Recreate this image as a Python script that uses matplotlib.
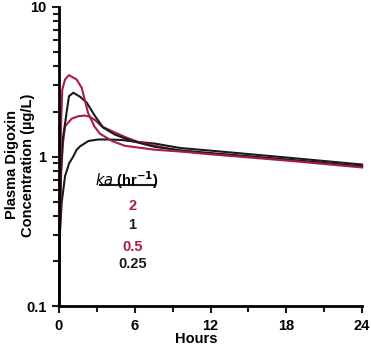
import numpy as np
import matplotlib
matplotlib.use('Agg')
import matplotlib.pyplot as plt
from matplotlib.ticker import FixedLocator, FixedFormatter, LogLocator, NullFormatter

plt.rcParams['font.family'] = ['Liberation Sans', 'DejaVu Sans']

RED = '#a81c4c'
BLK = '#1a1a1a'

# hours, concentration (ug/L)
t_ka2 = [0, 0.04, 0.1, 0.18, 0.26, 0.48, 0.79, 1.4, 1.8, 2.3, 2.8, 3.25, 4.2, 5.2, 7.6, 9.6, 12, 18, 24]
c_ka2 = [0.1, 0.3, 0.9, 1.8, 2.8, 3.27, 3.5, 3.27, 2.88, 1.96, 1.59, 1.42, 1.27, 1.18, 1.11, 1.08, 1.035, 0.94, 0.845]

t_ka1 = [0, 0.05, 0.15, 0.3, 0.6, 0.79, 1.13, 1.67, 2.2, 2.86, 3.5, 4.44, 5.77, 7.6, 9.6, 12, 18, 24]
c_ka1 = [0.1, 0.3, 0.8, 1.3, 1.96, 2.53, 2.67, 2.51, 2.29, 1.86, 1.56, 1.40, 1.27, 1.16, 1.10, 1.055, 0.955, 0.86]

t_ka05 = [0, 0.05, 0.15, 0.3, 0.48, 1.0, 1.53, 2.06, 2.46, 2.86, 3.39, 4.18, 5.24, 6.3, 7.6, 9.6, 12, 18, 24]
c_ka05 = [0.1, 0.25, 0.7, 1.2, 1.59, 1.79, 1.86, 1.88, 1.84, 1.75, 1.59, 1.48, 1.35, 1.25, 1.18, 1.09, 1.045, 0.95, 0.855]

t_ka025 = [0, 0.03, 0.08, 0.21, 0.48, 0.8, 1.13, 1.4, 1.67, 2.33, 3.1, 3.9, 4.95, 6.3, 7.6, 9.6, 12, 18, 24]
c_ka025 = [0.1, 0.18, 0.31, 0.49, 0.74, 0.9, 1.0, 1.11, 1.17, 1.27, 1.30, 1.30, 1.29, 1.25, 1.22, 1.14, 1.095, 0.985, 0.884]

legend_labels = ['2', '1', '0.5', '0.25']
legend_colors = [RED, BLK, RED, BLK]

fig = plt.figure(figsize=(3.71, 3.49), dpi=100)
ax = fig.add_axes([0.159, 0.123, 0.817, 0.857])

lw = 1.5
ax.plot(t_ka025, c_ka025, color=BLK, lw=lw, clip_on=False)
ax.plot(t_ka05, c_ka05, color=RED, lw=lw, clip_on=False)
ax.plot(t_ka1, c_ka1, color=BLK, lw=lw, clip_on=False)
ax.plot(t_ka2, c_ka2, color=RED, lw=lw, clip_on=False)

ax.set_yscale('log')
ax.set_ylim(0.1, 10)
ax.set_xlim(0, 24)

ax.yaxis.set_major_locator(FixedLocator([0.1, 1, 10]))
ax.yaxis.set_major_formatter(FixedFormatter(['0.1', '1', '10']))
ax.yaxis.set_minor_locator(LogLocator(base=10, subs=np.arange(2, 10)))
ax.yaxis.set_minor_formatter(NullFormatter())
ax.set_xticks([0, 6, 12, 18, 24])
ax.set_xticks([3, 9, 15, 21], minor=True)

for s in ['top', 'right']:
    ax.spines[s].set_visible(False)
for s in ['left', 'bottom']:
    ax.spines[s].set_linewidth(2)
ax.tick_params(which='both', direction='out', width=1.5, color=BLK)
ax.tick_params(which='major', length=5, labelsize=10.5, pad=4)
ax.tick_params(which='minor', length=4)
for lab in ax.get_xticklabels() + ax.get_yticklabels():
    lab.set_fontweight('bold')

fig.text(196 / 371, 1 - 339 / 349, 'Hours', fontsize=10.5, fontweight='bold',
         ha='center', va='center')
fig.text(20 / 371, 1 - 165 / 349, 'Plasma Digoxin\nConcentration (µg/L)',
         fontsize=10.5, fontweight='bold', rotation=90, ha='center',
         va='center', linespacing=1.1, multialignment='center')

# legend as text block
ax.text(5.4, 0.70, r'$\mathbf{\mathit{ka}}$ (hr$^{\mathbf{-1}}$)', fontsize=10.5,
        fontweight='bold', ha='center', va='center')
ax.plot([3.25, 7.6], [0.65, 0.65], color=BLK, lw=1.5)
ys = [0.465, 0.351, 0.25, 0.19]
for lab, col, yv in zip(legend_labels, legend_colors, ys):
    ax.text(5.8, yv, lab, color=col, fontsize=10.5, fontweight='bold',
            ha='center', va='center')

fig.savefig('out.png', dpi=100)
